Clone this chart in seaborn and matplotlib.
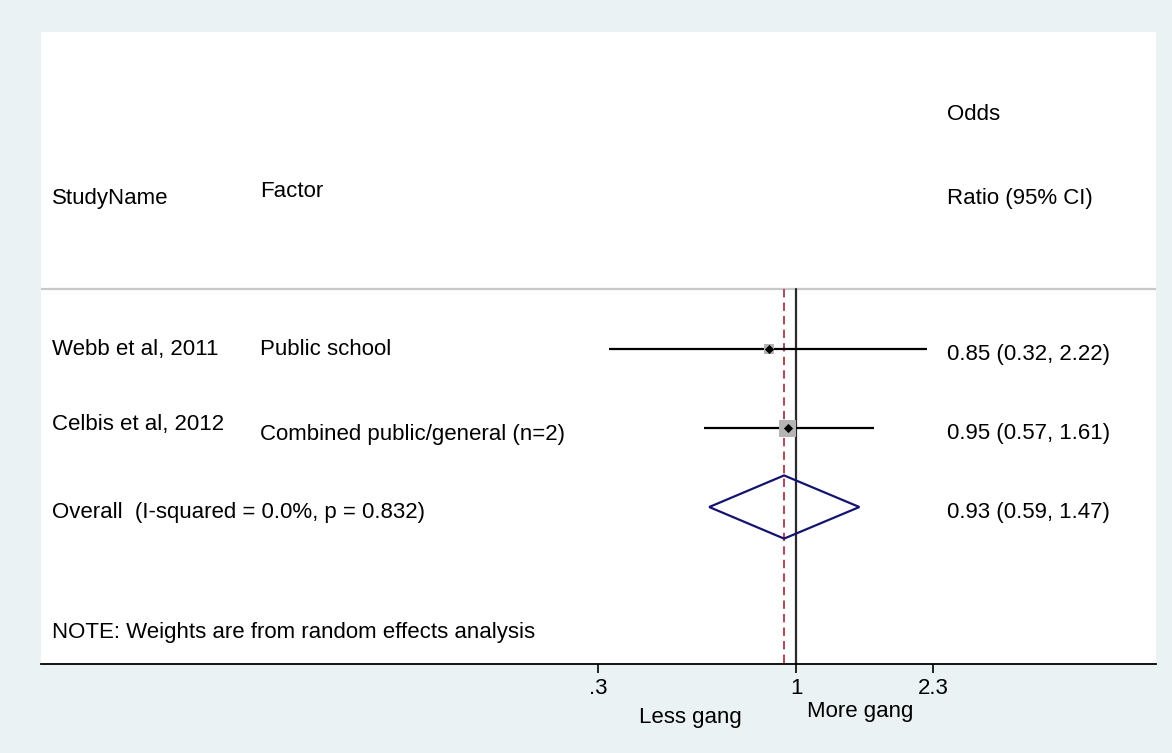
import numpy as np
import pandas as pd
import seaborn as sns
from matplotlib import pyplot as plt

# data
studies = ["Webb et al, 2011", "Celbis et al, 2012"]
factors = ["Public school", "Combined public/general (n=2)"]
odds_ratio = [0.85, 0.95]
ci_low = [0.32, 0.57]
ci_high = [2.22, 1.61]
weights = [27.0, 73.0]

overall_or = 0.93
overall_low = 0.59
overall_high = 1.47
overall_label = "Overall  (I-squared = 0.0%, p = 0.832)"
note_text = "NOTE: Weights are from random effects analysis"

tick_values = [0.3, 1, 2.3]
tick_labels = [".3", "1", "2.3"]

sns.set_style("white")
plt.rcParams['font.family'] = ['Liberation Sans', 'DejaVu Sans']
plt.rcParams['text.color'] = 'black'

bg = '#EAF2F3'
fig = plt.figure(figsize=(11.72, 7.53), dpi=100, facecolor=bg)
ax = fig.add_axes([41 / 1172, 1 - 664 / 753, 1115 / 1172, 632 / 753])
ax.set_facecolor('white')

df = pd.DataFrame({
    'study': studies, 'factor': factors, 'or': odds_ratio,
    'lo': ci_low, 'hi': ci_high, 'w': weights,
})
df['row'] = np.arange(len(df))
overall_row = len(df)

# log x axis (px per decade ~378.7, 1 at x=796)
ax.set_xscale('log')
ax.set_xlim(10 ** ((41 - 796) / 378.7), 10 ** ((1156 - 796) / 378.7))
ax.set_ylim(3.987, -4.013)

fs = 16
line_top = -0.76

# header separator
ax.axhline(line_top, color='#c8c8c8', lw=1.6, zorder=1)

# null line and overall line
ax.plot([1, 1], [line_top, 3.987], color='#2a2a2a', lw=1.6, zorder=2)
ax.plot([overall_or, overall_or], [line_top, 3.987], color='#a8505c',
        lw=1.5, ls=(0, (4, 2.5)), zorder=2)

# CI lines
ax.hlines(df['row'], df['lo'], df['hi'], color='black', lw=1.6, zorder=3)

# weight boxes and point estimates
sns.scatterplot(data=df, x='or', y='row', size='w', sizes=(52, 150),
                marker='s', color='#b4b4b4', linewidth=0, legend=False,
                ax=ax, zorder=4)
sns.scatterplot(data=df, x='or', y='row', marker='D', color='black',
                s=22, linewidth=0, legend=False, ax=ax, zorder=5)

# overall diamond
ax.fill([overall_low, overall_or, overall_high, overall_or, overall_low],
        [overall_row, overall_row - 0.4, overall_row, overall_row + 0.4, overall_row],
        facecolor='none', edgecolor='#14146e', lw=1.6, zorder=6)

# text columns (x in axes fraction)
tx = ax.get_yaxis_transform()
col_study = (52 - 41) / 1115
col_factor = (260 - 41) / 1115
col_or = (947 - 41) / 1115
dy = 0.03

ax.text(col_study, -1.94 + dy, "StudyName", transform=tx, fontsize=fs, va='center')
ax.text(col_factor, -2.02 + dy, "Factor", transform=tx, fontsize=fs, va='center')
ax.text(col_or, -3.0 + dy, "Odds", transform=tx, fontsize=fs, va='center')
ax.text(col_or, -1.94 + dy, "Ratio (95% CI)", transform=tx, fontsize=fs, va='center')

factor_offset = [-0.03, 0.05]
for i, r in df.iterrows():
    ax.text(col_study, r['row'] - 0.03 - 0.04 * i + dy, r['study'], transform=tx, fontsize=fs, va='center')
    ax.text(col_factor, r['row'] + factor_offset[i] + dy, r['factor'], transform=tx, fontsize=fs, va='center')
    ax.text(col_or, r['row'] + 0.04 + dy, f"{r['or']:.2f} ({r['lo']:.2f}, {r['hi']:.2f})",
            transform=tx, fontsize=fs, va='center')

ax.text(col_study, overall_row + 0.04 + dy, overall_label, transform=tx, fontsize=fs, va='center')
ax.text(col_or, overall_row + 0.04 + dy, f"{overall_or:.2f} ({overall_low:.2f}, {overall_high:.2f})",
        transform=tx, fontsize=fs, va='center')
ax.text(col_study, 3.557 + dy, note_text, transform=tx, fontsize=fs, va='center')

# axis styling
for side in ['top', 'left', 'right']:
    ax.spines[side].set_visible(False)
ax.spines['bottom'].set_color('black')
ax.spines['bottom'].set_linewidth(1.3)
ax.set_xticks(tick_values)
ax.set_xticklabels(tick_labels)
ax.minorticks_off()
ax.set_yticks([])
ax.tick_params(axis='x', direction='out', length=6.5, width=1.2, pad=3.5,
               labelsize=fs, colors='black', bottom=True)
ax.set_xlabel('')
ax.set_ylabel('')

fig.text(690 / 1172, 1 - 717 / 753, "Less gang", ha='center', va='center', fontsize=fs)
fig.text(860 / 1172, 1 - 712 / 753, "More gang", ha='center', va='center', fontsize=fs)

fig.savefig('out.png', dpi=100, facecolor=bg)
